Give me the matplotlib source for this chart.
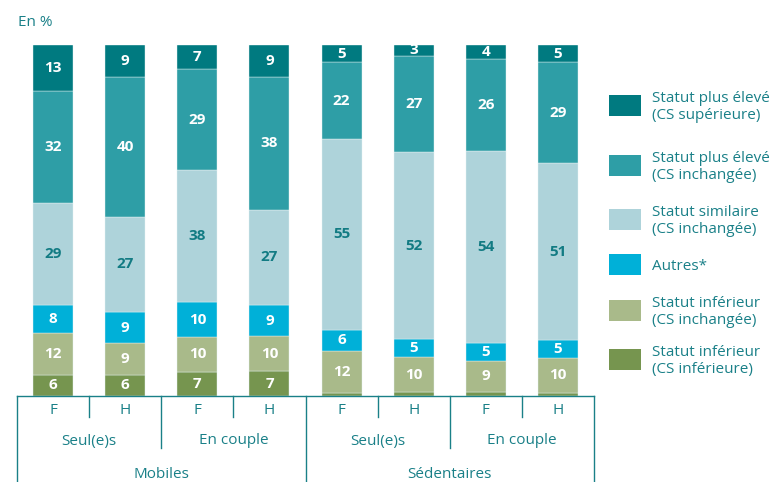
import matplotlib.pyplot as plt
from matplotlib.patches import Rectangle
from matplotlib.lines import Line2D
import numpy as np

plt.rcParams['font.family'] = ['Open Sans', 'DejaVu Sans']

sexes = ["F", "H", "F", "H", "F", "H", "F", "H"]
couples = ["Seul(e)s", "En couple", "Seul(e)s", "En couple"]
groups = ["Mobiles", "Sédentaires"]

# bottom to top
series = [
    "Statut inférieur\n(CS inférieure)",
    "Statut inférieur\n(CS inchangée)",
    "Autres*",
    "Statut similaire\n(CS inchangée)",
    "Statut plus élevé\n(CS inchangée)",
    "Statut plus élevé\n(CS supérieure)",
]
inf_inf = [6, 6, 7, 7, 1, 1, 1, 1]
inf_inch = [12, 9, 10, 10, 12, 10, 9, 10]
autres = [8, 9, 10, 9, 6, 5, 5, 5]
similaire = [29, 27, 38, 27, 55, 52, 54, 51]
sup_inch = [32, 40, 29, 38, 22, 27, 26, 29]
sup_sup = [13, 9, 7, 9, 5, 3, 4, 5]

colors = ["#76954F", "#A9BA8A", "#00B0D8", "#AED3DA", "#2E9EA6", "#007A80"]
txt_colors = ["white", "white", "white", "#127B83", "white", "white"]
teal = "#1A8088"

W, H = 779, 482
fig = plt.figure(figsize=(W / 100, H / 100), dpi=100)

# axes box in pixels
x0, x1, ytop, ybot = 17, 594, 45, 396
ax = fig.add_axes([x0 / W, (H - ybot) / H, (x1 - x0) / W, (ybot - ytop) / H])

data = np.array([inf_inf, inf_inch, autres, similaire, sup_inch, sup_sup], dtype=float)
pct = data / data.sum(axis=0) * 100
x = np.arange(len(sexes))
bottom = np.zeros(len(sexes))
for k in range(len(series)):
    ax.bar(x, pct[k], 0.555, bottom=bottom, color=colors[k],
           edgecolor="#E6F2F3", linewidth=0.3)
    for i in range(len(x)):
        if data[k, i] >= 2:
            ax.text(x[i], bottom[i] + pct[k, i] / 2, f"{int(data[k, i])}",
                    ha="center", va="center", fontsize=11, fontweight="bold",
                    color=txt_colors[k])
    bottom += pct[k]

ax.set_xlim(-0.5, 7.5)
ax.set_ylim(0, 100)
ax.axis("off")


def ay(py):
    # pixel row -> axes fraction
    return (ybot - py) / (ybot - ytop)


def sep(xd, py_end):
    ax.add_line(Line2D([xd, xd], [0, ay(py_end)], color=teal, lw=1,
                       transform=ax.get_xaxis_transform(), clip_on=False))


ax.add_line(Line2D([-0.5, 7.5], [0, 0], color=teal, lw=1,
                   transform=ax.get_xaxis_transform(), clip_on=False))
for i in range(9):
    xd = i - 0.5
    if i in (0, 4, 8):
        sep(xd, 482)
    elif i % 2 == 0:
        sep(xd, 448)
    else:
        sep(xd, 417)

tr = ax.get_xaxis_transform()
for i, s in enumerate(sexes):
    ax.text(x[i], ay(410), s, ha="center", va="center", fontsize=11,
            color=teal, transform=tr)
for j, c in enumerate(couples):
    ax.text(2 * j + 0.5, ay(441), c, ha="center", va="center", fontsize=11,
            color=teal, transform=tr)
for j, g in enumerate(groups):
    ax.text(4 * j + 1.5, ay(475), g, ha="center", va="center", fontsize=11,
            color=teal, transform=tr)

fig.text(18 / W, 1 - 22 / H, "En %", ha="left", va="center", fontsize=11,
         color=teal)

# legend, top to bottom
patch_y = [95, 155, 209, 254, 300, 349]
for n, py in enumerate(patch_y):
    k = len(series) - 1 - n
    fig.add_artist(Rectangle((609 / W, 1 - (py + 21) / H), 32 / W, 21 / H,
                             facecolor=colors[k], edgecolor="none",
                             transform=fig.transFigure))
    fig.text(652 / W, 1 - (py + 12) / H, series[k], ha="left", va="center",
             fontsize=11, color=teal, linespacing=1.1)

fig.savefig("out.png", dpi=100)
